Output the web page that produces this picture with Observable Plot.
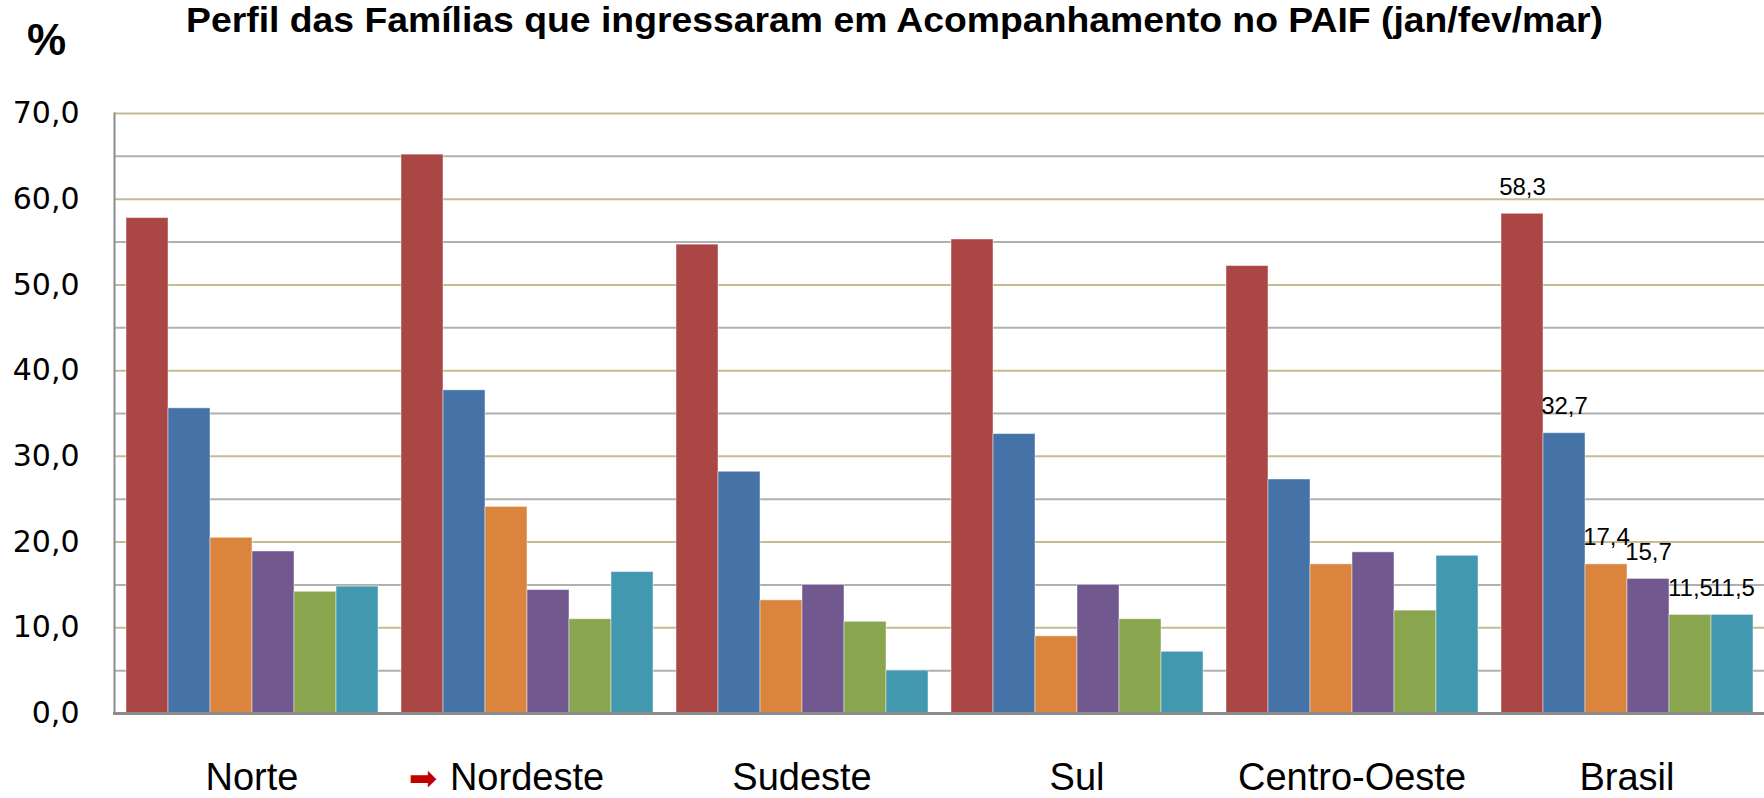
<!DOCTYPE html>
<html><head><meta charset="utf-8">
<script src="https://cdn.jsdelivr.net/npm/d3@7"></script>
<script src="https://cdn.jsdelivr.net/npm/@observablehq/plot@0.6"></script>
<style>
body{margin:0;background:#fff;}
#wrap{position:relative;width:1764px;height:798px;overflow:hidden;background:#fff;}
#head{position:relative;width:1764px;height:60px;}
#title{position:absolute;left:186px;top:2px;font-weight:bold;font-size:35px;font-family:"Liberation Sans",Arial,sans-serif;line-height:1;white-space:nowrap;transform-origin:0 0;color:#000;}
#pct{position:absolute;left:27px;top:18px;font-weight:bold;font-size:44px;font-family:"Liberation Sans",Arial,sans-serif;line-height:1;color:#000;}
#chart svg{display:block;}
</style></head><body>
<div id="wrap">
  <div id="head"><div id="pct">%</div><div id="title">Perfil das Famílias que ingressaram em Acompanhamento no PAIF (jan/fev/mar)</div></div>
  <div id="chart"></div>
</div>
<script>
// ---- data ----
const regions = ["Norte", "Nordeste", "Sudeste", "Sul", "Centro-Oeste", "Brasil"];
const series = ["Série 1", "Série 2", "Série 3", "Série 4", "Série 5", "Série 6"];
const serie1 = [57.8, 65.2, 54.7, 55.3, 52.2, 58.3];
const serie2 = [35.6, 37.7, 28.2, 32.6, 27.3, 32.7];
const serie3 = [20.5, 24.1, 13.2, 9.0, 17.4, 17.4];
const serie4 = [18.9, 14.4, 15.0, 15.0, 18.8, 15.7];
const serie5 = [14.2, 11.0, 10.7, 11.0, 12.0, 11.5];
const serie6 = [14.8, 16.5, 5.0, 7.2, 18.4, 11.5];
const yTicks = [0, 10, 20, 30, 40, 50, 60, 70];
const yMinorTicks = [5, 15, 25, 35, 45, 55, 65];
const colors = ["#AA4643", "#4572A7", "#DB843D", "#71588F", "#89A54E", "#4198AF"];
const labelRegion = "Brasil";
const arrowRegion = "Nordeste";

const values = [serie1, serie2, serie3, serie4, serie5, serie6];
const rows = regions.flatMap((r, i) => series.map((s, j) => ({region: r, serie: s, value: values[j][i]})));
const fmt = d => d.toFixed(1).replace(".", ",");

const chart = Plot.plot({
  width: 1764, height: 738,
  marginTop: 53, marginBottom: 85, marginLeft: 114, marginRight: 0,
  facet: {marginTop: 0, marginBottom: 0, marginLeft: 0, marginRight: 0},
  fx: {domain: regions, padding: 0, axis: null, label: null},
  x: {domain: series, paddingInner: 0, paddingOuter: 0.2164, axis: null},
  y: {domain: [0, 70], axis: null},
  color: {domain: series, range: colors},
  marks: [
    Plot.ruleY(yMinorTicks, {stroke: "#B0B0B0", strokeWidth: 2}),
    Plot.ruleY(yTicks.slice(1), {stroke: "#C4BB92", strokeWidth: 2}),
    Plot.barY(rows, {fx: "region", x: "serie", y: "value", fill: "serie", stroke: "white", strokeOpacity: 0.45, strokeWidth: 1}),
    Plot.frame({anchor: "left", stroke: "#8C8C8C", strokeWidth: 2, facetAnchor: "left"}),
    Plot.frame({anchor: "bottom", stroke: "#8C8C8C", strokeWidth: 3}),
    Plot.axisY(yTicks, {tickSize: 0, tickPadding: 35, tickFormat: fmt, fontSize: 30, fontFamily: "DejaVu Sans", label: null}),
    Plot.axisFx({anchor: "bottom", tickSize: 0, tickPadding: 50, fontSize: 38, fontFamily: "Liberation Sans, Arial, sans-serif", label: null}),
    Plot.text([arrowRegion], {fx: d => d, text: () => "\u27A1", frameAnchor: "bottom", dy: 76, dx: -104, fill: "#C00000", fontSize: 34, fontFamily: "DejaVu Sans"}),
    Plot.text(rows.filter(d => d.region === labelRegion), {fx: "region", x: "serie", y: "value", text: d => fmt(d.value), lineAnchor: "bottom", dy: -19, fontSize: 24, fontFamily: "Liberation Sans, Arial, sans-serif", fill: "#000"})
  ]
});
document.getElementById("chart").appendChild(chart);

const t = document.getElementById("title");
const w = t.getBoundingClientRect().width;
t.style.transform = `scaleX(${1417 / w})`;
</script>
</body></html>
